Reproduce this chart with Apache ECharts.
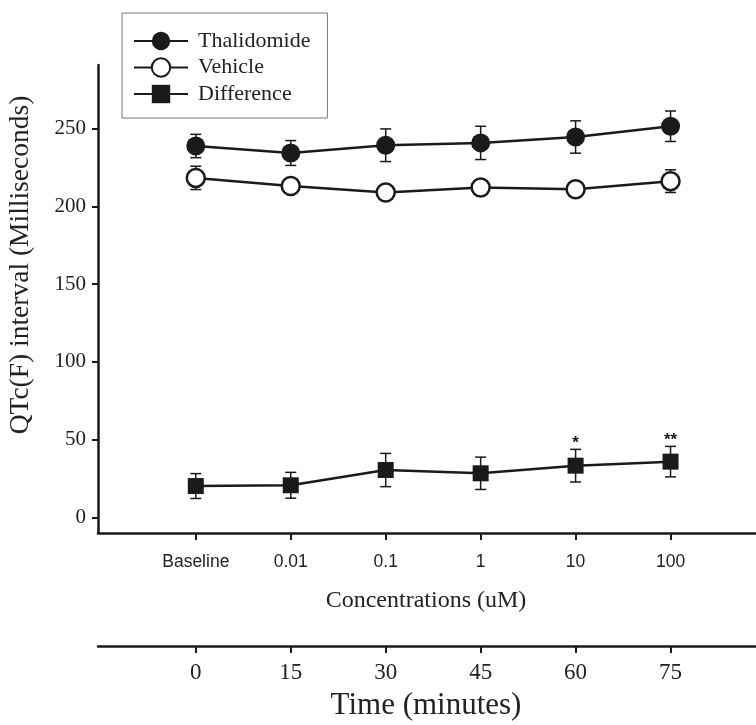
<!DOCTYPE html>
<html>
<head>
<meta charset="utf-8">
<script src="https://cdn.jsdelivr.net/npm/echarts@6/dist/echarts.min.js"></script>
<style>html,body{margin:0;padding:0;background:#fff}#c{width:756px;height:725px}</style>
</head>
<body>
<div id="c"></div>
<script>
// ---- data ----
const concLabels = ['Baseline', '0.01', '0.1', '1', '10', '100'];
const timeLabels = ['0', '15', '30', '45', '60', '75'];
const yTicks = [0, 50, 100, 150, 200, 250];
const thalidomide = [238.9, 234.4, 239.4, 240.9, 244.7, 251.6];
const thalidomideErr = [7.5, 8, 10.5, 10.7, 10.4, 9.8];
const vehicle = [218.4, 213.2, 209.0, 212.2, 211.1, 216.3];
const vehicleErr = [7.5, 4, 4, 4, 4, 7.3];
const difference = [20.2, 20.7, 30.5, 28.4, 33.3, 35.9];
const differenceErr = [8, 8.3, 10.7, 10.4, 10.5, 9.8];
const significance = ['', '', '', '', '*', '**'];

const INK = '#1a1a1a';
const SERIF = 'Liberation Serif, Times New Roman, serif';
const SANS = 'Liberation Sans, Arial, sans-serif';
const idx = concLabels.map((_, i) => i);

function pts(vals) { return vals.map((v, i) => [i, v]); }
function errData(vals, errs) { return vals.map((v, i) => [i, v, errs[i]]); }

function errRender(params, api) {
  const x = api.value(0), m = api.value(1), e = api.value(2);
  const top = api.coord([x, m + e]);
  const bot = api.coord([x, m - e]);
  const hw = 5.5;
  const style = { stroke: INK, lineWidth: 1.5 };
  return {
    type: 'group',
    children: [
      { type: 'line', shape: { x1: top[0], y1: top[1], x2: bot[0], y2: bot[1] }, style },
      { type: 'line', shape: { x1: top[0] - hw, y1: top[1], x2: top[0] + hw, y2: top[1] }, style },
      { type: 'line', shape: { x1: bot[0] - hw, y1: bot[1], x2: bot[0] + hw, y2: bot[1] }, style }
    ]
  };
}

function starRender(params, api) {
  const i = api.value(0);
  const p = api.coord([i, api.value(1) + api.value(2)]);
  return {
    type: 'text',
    style: {
      x: p[0], y: p[1] + 2, text: significance[i],
      fill: INK, font: 'bold 17px ' + SANS,
      align: 'center', verticalAlign: 'bottom'
    }
  };
}

const chart = echarts.init(document.getElementById('c'), null, { renderer: 'canvas' });

const xCommon = {
  type: 'value', min: -1.03, max: 5.9, position: 'bottom',
  axisLine: { onZero: false, lineStyle: { color: INK, width: 2.5 } },
  axisTick: { customValues: idx, length: 7, lineStyle: { color: INK, width: 2 } },
  splitLine: { show: false }
};

chart.setOption({
  animation: false,
  backgroundColor: '#fff',
  grid: { left: 98, right: 0, top: 65, bottom: 192, containLabel: false },
  legend: {
    data: ['Thalidomide', 'Vehicle', 'Difference'],
    orient: 'vertical', left: 122, top: 13,
    itemWidth: 54, itemHeight: 23, itemGap: 4.5,
    padding: [17, 17, 13, 11],
    borderColor: '#777', borderWidth: 1,
    textStyle: { fontFamily: SERIF, fontSize: 22, color: '#222', padding: [0, 0, 0, 5] },
    selectedMode: false
  },
  xAxis: [
    Object.assign({}, xCommon, {
      axisLabel: {
        customValues: idx, margin: 20, fontFamily: SANS, fontSize: 17.5, color: '#222',
        formatter: v => concLabels[Math.round(v)]
      }
    }),
    Object.assign({}, xCommon, {
      offset: 113,
      axisLabel: {
        customValues: idx, margin: 15, fontFamily: SERIF, fontSize: 23, color: '#222',
        formatter: v => timeLabels[Math.round(v)]
      }
    })
  ],
  yAxis: {
    type: 'value', min: -10, max: 291,
    axisLine: { onZero: false, lineStyle: { color: INK, width: 2.5 } },
    axisTick: { customValues: yTicks, length: 6, lineStyle: { color: INK, width: 2 } },
    axisLabel: { customValues: yTicks, margin: 12, fontFamily: SERIF, fontSize: 21, color: '#222' },
    splitLine: { show: false }
  },
  graphic: [
    { type: 'text', x: 426, y: 601,
      style: { text: 'Concentrations (uM)', font: '24px ' + SERIF, fill: '#222', align: 'center', verticalAlign: 'middle' } },
    { type: 'text', x: 426, y: 706,
      style: { text: 'Time (minutes)', font: '31px ' + SERIF, fill: '#222', align: 'center', verticalAlign: 'middle' } },
    { type: 'text', x: 21, y: 265, rotation: Math.PI / 2,
      style: { text: 'QTc(F) interval (Milliseconds)', font: '27.5px ' + SERIF, fill: '#222', align: 'center', verticalAlign: 'middle' } }
  ],
  series: [
    { name: 'ThalErr', type: 'custom', renderItem: errRender, data: errData(thalidomide, thalidomideErr), z: 1, silent: true },
    { name: 'VehErr', type: 'custom', renderItem: errRender, data: errData(vehicle, vehicleErr), z: 1, silent: true },
    { name: 'DiffErr', type: 'custom', renderItem: errRender, data: errData(difference, differenceErr), z: 1, silent: true },
    { name: 'Stars', type: 'custom', renderItem: starRender, data: errData(difference, differenceErr), z: 3, silent: true },
    { name: 'Thalidomide', type: 'line', data: pts(thalidomide), symbol: 'circle', symbolSize: 19,
      color: INK, itemStyle: { color: INK }, lineStyle: { color: INK, width: 2.5 }, z: 5 },
    { name: 'Vehicle', type: 'line', data: pts(vehicle), symbol: 'circle', symbolSize: 18,
      color: INK, itemStyle: { color: '#fff', borderColor: INK, borderWidth: 2.5 }, lineStyle: { color: INK, width: 2.5 }, z: 5 },
    { name: 'Difference', type: 'line', data: pts(difference), symbol: 'rect', symbolSize: 16,
      color: INK, itemStyle: { color: INK }, lineStyle: { color: INK, width: 2.5 }, z: 5 }
  ]
});
</script>
</body>
</html>
